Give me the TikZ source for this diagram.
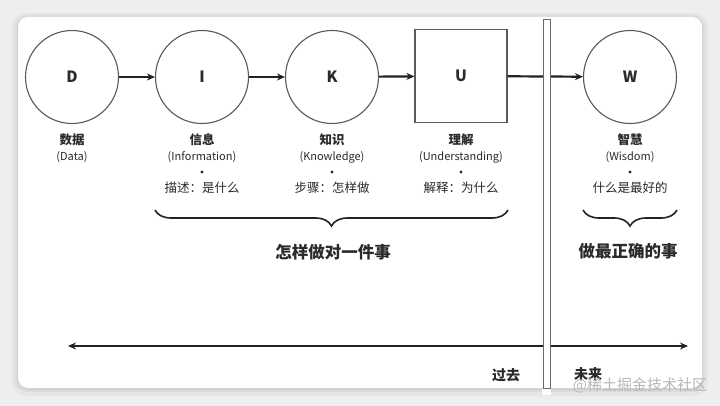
\documentclass[tikz,border=0pt]{standalone}
\usepackage{fontspec}
\setmainfont{Noto Sans CJK SC}
\usetikzlibrary{arrows.meta,decorations.pathreplacing,calc}
\definecolor{bgc}{HTML}{EEEEEE}
\definecolor{linec}{HTML}{5A5A5A}
\definecolor{divc}{HTML}{6A6A6A}
\definecolor{arrc}{HTML}{222222}
\definecolor{txtc}{HTML}{2A2A2A}
\definecolor{wmc}{HTML}{B8B8B8}
\tikzset{
  stage/.style={circle,draw=linec,line width=1.1pt,minimum size=93pt,inner sep=0pt,font=\fontsize{15.5}{15.5}\selectfont\bfseries,text=txtc},
  stagebox/.style={rectangle,draw=linec,line width=1.1pt,minimum width=92pt,minimum height=93pt,inner sep=0pt,font=\fontsize{15.5}{15.5}\selectfont\bfseries,text=txtc},
  flow/.style={draw=arrc,line width=2.2pt,-{Stealth[length=8pt,width=7pt]}},
  cnlab/.style={font=\fontsize{12.5}{12.5}\selectfont\bfseries,text=txtc,inner sep=0pt},
  enlab/.style={font=\fontsize{11}{11}\selectfont,text=txtc,inner sep=0pt},
  desc/.style={font=\fontsize{12.5}{12.5}\selectfont,text=txtc,inner sep=0pt},
  dotlab/.style={circle,fill=txtc,inner sep=0pt,minimum size=3.2pt},
  bracec/.style={draw=arrc,line width=1.6pt,decorate,decoration={brace,mirror,amplitude=16pt}},
  bigtxt/.style={font=\fontsize{16.5}{16.5}\selectfont\bfseries,text=txtc,inner sep=0pt},
  timetxt/.style={font=\fontsize{14}{14}\selectfont\bfseries,text=txtc,inner sep=0pt},
}
\begin{document}
\begin{tikzpicture}[x=1pt,y=-1pt]
\useasboundingbox (0,0) rectangle (720,406);
\fill[bgc] (0,0) rectangle (720,406);
% card shadow
\fill[black,opacity=0.03,rounded corners=14pt] (12,13) rectangle (708,396);
\fill[black,opacity=0.04,rounded corners=12pt] (15,15) rectangle (705,392);
\fill[black,opacity=0.05,rounded corners=11pt] (17,17) rectangle (703,390);
\fill[white,rounded corners=10pt] (18,17) rectangle (702,388);

% stages
\node[stage] (D) at (72,77) {D};
\node[stage] (I) at (202,77) {I};
\node[stage] (K) at (332,77) {K};
\node[stagebox] (U) at (461,76) {U};
\node[stage] (W) at (630,77) {W};

\draw[flow] (D) -- (I);
\draw[flow] (I) -- (K);
\draw[flow] (K) -- (U);
\draw[flow] (U) -- (W);

% timeline
\coordinate (tl) at (68,346);
\coordinate (tr) at (688,346);
\draw[draw=arrc,line width=2.2pt,{Stealth[length=8pt,width=7pt]}-{Stealth[length=8pt,width=7pt]}] (tl) -- (tr);

% divider
\node[rectangle,draw=divc,fill=white,line width=0.9pt,minimum width=7pt,minimum height=369pt,inner sep=0pt,anchor=north] (div) at (546.5,19) {};
\fill[white] (542,388.5) rectangle (551,395);

% labels
\node[cnlab] (d1) at (72,140) {数据};
\node[enlab] (d2) at (72,157) {(Data)};

\node[cnlab] (i1) at (202,140) {信息};
\node[enlab] (i2) at (202,157) {(Information)};
\node[dotlab] (i3) at (202,172) {};
\node[desc] (i4) at (202,188) {描述：是什么};

\node[cnlab] (k1) at (332,140) {知识};
\node[enlab] (k2) at (332,157) {(Knowledge)};
\node[dotlab] (k3) at (332,172) {};
\node[desc] (k4) at (332,188) {步骤：怎样做};

\node[cnlab] (u1) at (461,140) {理解};
\node[enlab] (u2) at (461,157) {(Understanding)};
\node[dotlab] (u3) at (461,172) {};
\node[desc] (u4) at (461,188) {解释：为什么};

\node[cnlab] (w1) at (630,140) {智慧};
\node[enlab] (w2) at (630,157) {(Wisdom)};
\node[dotlab] (w3) at (630,172) {};
\node[desc] (w4) at (630,188) {什么是最好的};

% braces
\coordinate (b1l) at (155,210);
\coordinate (b1r) at (508,210);
\coordinate (b2l) at (583,210);
\coordinate (b2r) at (677,210);
\draw[bracec] (b1l) -- (b1r);
\draw[bracec] (b2l) -- (b2r);
\node[bigtxt] (t1) at (333,252) {怎样做对一件事};
\node[bigtxt] (t2) at (628,251) {做最正确的事};

% time labels
\node[timetxt] (past) at (506,375) {过去};
\node[timetxt] (future) at (588,374) {未来};

% watermark
\node[font=\fontsize{15}{15}\selectfont,text=wmc,inner sep=0pt] (wm) at (640,385) {@稀土掘金技术社区};
\end{tikzpicture}
\end{document}
